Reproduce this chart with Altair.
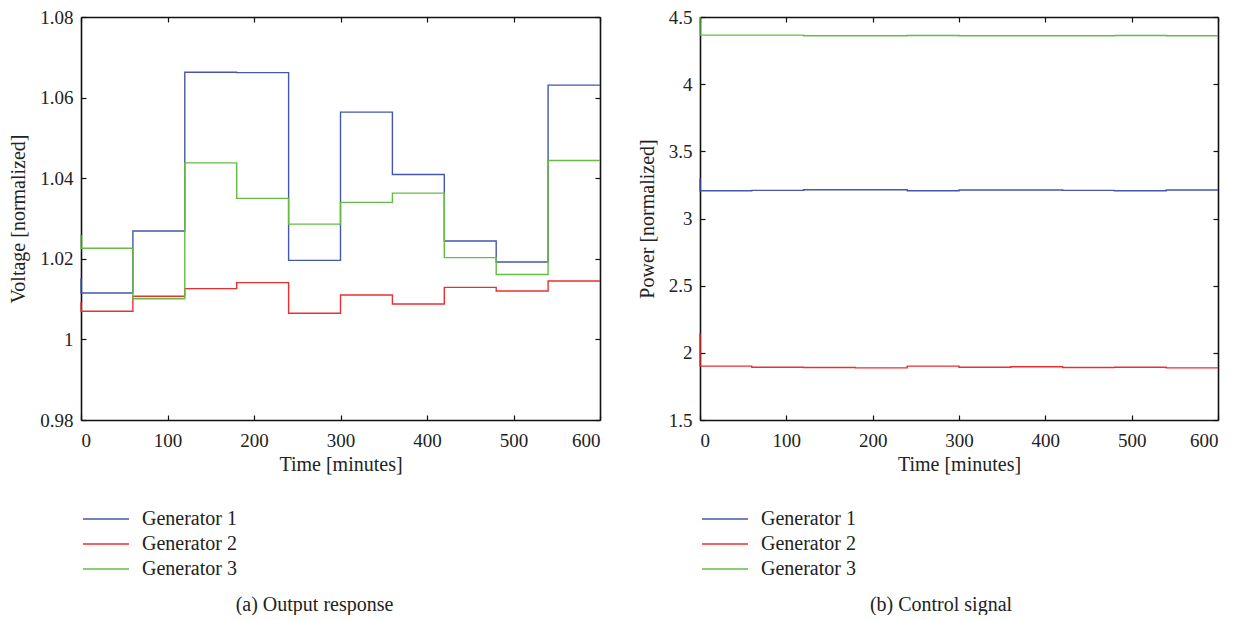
import altair as alt
import pandas as pd

# ---------------- data ----------------
gens = ["Generator 1", "Generator 2", "Generator 3"]
colors = ["#4357AD", "#EE2E2E", "#66BB44"]

# step times: first point is the initial transient at t=0, last repeats final level to t=600
times = [0, 0, 60, 120, 180, 240, 300, 360, 420, 480, 540, 600]

# (a) Output response - voltage [normalized]
volt_g1 = [1.0152, 1.0115, 1.0269, 1.0663, 1.0662, 1.0196, 1.0564, 1.0409, 1.0244, 1.0192, 1.0631, 1.0631]
volt_g2 = [1.0093, 1.0070, 1.0107, 1.0126, 1.0141, 1.0065, 1.0110, 1.0088, 1.0129, 1.0120, 1.0145, 1.0145]
volt_g3 = [1.0259, 1.0226, 1.0101, 1.0438, 1.0350, 1.0286, 1.0340, 1.0363, 1.0203, 1.0161, 1.0444, 1.0444]

# (b) Control signal - power [normalized]
pow_g1 = [3.30, 3.207, 3.209, 3.214, 3.214, 3.207, 3.212, 3.212, 3.209, 3.207, 3.212, 3.212]
pow_g2 = [2.145, 1.901, 1.893, 1.891, 1.888, 1.901, 1.893, 1.896, 1.891, 1.893, 1.888, 1.888]
pow_g3 = [4.50, 4.365, 4.365, 4.360, 4.360, 4.362, 4.360, 4.360, 4.360, 4.362, 4.360, 4.360]

x_ticks = [0, 100, 200, 300, 400, 500, 600]
volt_ticks = [0.98, 1.0, 1.02, 1.04, 1.06, 1.08]
pow_ticks = [1.5, 2.0, 2.5, 3.0, 3.5, 4.0, 4.5]

FONT = "Liberation Serif"
TXT = "#222222"
# wide horizontal stroke used as legend symbol
LEGEND_LINE = "M-2.3,0H2.3"


def long_df(series):
    rows = []
    for g, vals in zip(gens, series):
        for i, (t, v) in enumerate(zip(times, vals)):
            rows.append({"gen": g, "t": t, "v": v, "i": i})
    return pd.DataFrame(rows)


def panel(df, ydom, yticks, ytitle, caption, width, cap_dx):
    base = alt.Chart(df)
    ax_common = dict(
        domainColor="#111111", domainWidth=1.6, tickColor="#111111", tickWidth=1.2,
        tickSize={"expr": "-5"}, grid=False, labelFont=FONT, labelFontSize=19,
        labelColor=TXT, titleFont=FONT, titleFontSize=20, titleFontWeight="normal",
        titleColor=TXT,
    )
    xs = alt.Scale(domain=[0, 600], nice=False)
    ys = alt.Scale(domain=ydom, nice=False, zero=False)
    lines = base.mark_line(interpolate="step-after", strokeWidth=1.4).encode(
        x=alt.X("t:Q", scale=xs,
                axis=alt.Axis(orient="bottom", values=x_ticks, title="Time [minutes]",
                              labelPadding=16, titlePadding=4, **ax_common)),
        y=alt.Y("v:Q", scale=ys,
                axis=alt.Axis(orient="left", values=yticks, format="~g", title=ytitle,
                              labelPadding=13, titlePadding=11, **ax_common)),
        color=alt.Color("gen:N", scale=alt.Scale(domain=gens, range=colors),
                        legend=alt.Legend(title=None, orient="none", legendX=14, legendY=491,
                                          symbolType=LEGEND_LINE, symbolSize=400,
                                          symbolStrokeWidth=1.3, labelFont=FONT,
                                          labelFontSize=20, labelColor=TXT,
                                          rowPadding=4, labelOffset=25,
                                          padding=0)),
        order="i:Q",
    )
    mirror = base.mark_line(opacity=0).encode(
        x=alt.X("t:Q", scale=xs,
                axis=alt.Axis(orient="top", values=x_ticks, labels=False, title=None, **ax_common)),
        y=alt.Y("v:Q", scale=ys,
                axis=alt.Axis(orient="right", values=yticks, labels=False, title=None, **ax_common)),
        detail="gen:N",
        order="i:Q",
    )
    return alt.layer(lines, mirror).properties(
        width=width, height=403,
        title=alt.TitleParams(caption, orient="bottom", font=FONT, fontSize=20,
                              fontWeight="normal", color=TXT, offset=16, anchor="middle",
                              frame="group", dx=cap_dx),
    )


left = panel(long_df([volt_g1, volt_g2, volt_g3]), [0.98, 1.08], volt_ticks,
             "Voltage [normalized]", "(a)  Output response", 519, -26)
right = panel(long_df([pow_g1, pow_g2, pow_g3]), [1.5, 4.5], pow_ticks,
              "Power [normalized]", "(b)  Control signal", 518, -18)

chart = alt.hconcat(left, right, spacing=34).resolve_scale(color="independent").configure_view(
    stroke=None
).properties(padding={"left": 0, "top": 0, "right": 0, "bottom": 0})

chart.save("out.html", embed_options={"renderer": "svg", "actions": False})
